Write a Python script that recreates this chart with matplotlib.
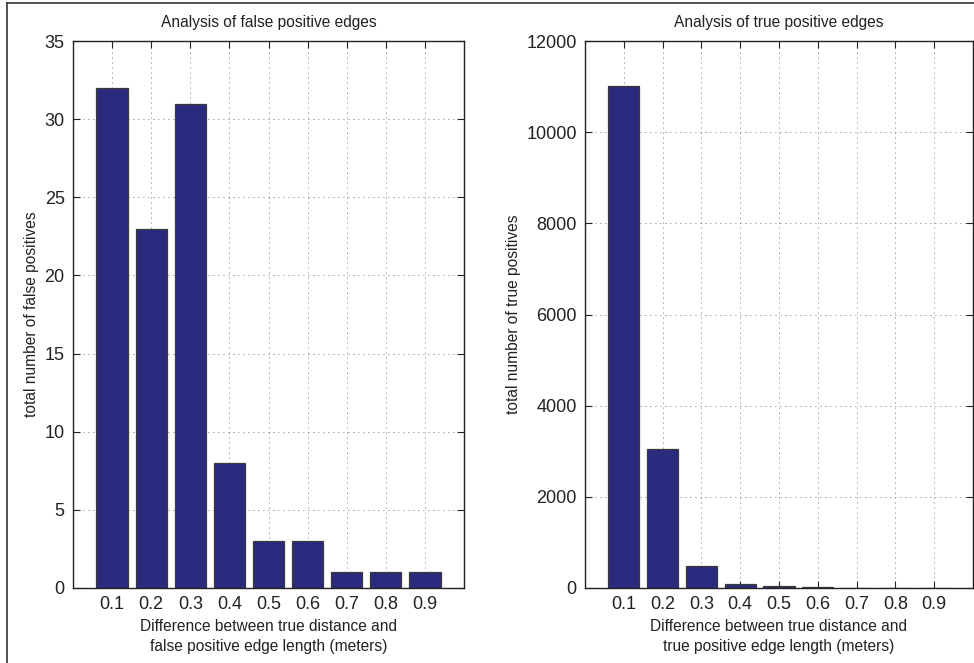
import numpy as np
import matplotlib
matplotlib.use("Agg")
import matplotlib.pyplot as plt
from matplotlib.lines import Line2D

plt.rcParams['font.family'] = ['Liberation Sans', 'DejaVu Sans']

# data
bins = [0.1, 0.2, 0.3, 0.4, 0.5, 0.6, 0.7, 0.8, 0.9]
tick_labels = ['0.1', '0.2', '0.3', '0.4', '0.5', '0.6', '0.7', '0.8', '0.9']
false_pos = [32, 23, 31, 8, 3, 3, 1, 1, 1]
true_pos = [11020, 3060, 490, 95, 40, 15, 6, 4, 4]

bar_color = '#2a2a7e'
edge_color = '#3a3a3a'

fig = plt.figure(figsize=(9.74, 6.63), dpi=100)

# frame around the figure (only left and top visible in the crop)
fig.add_artist(Line2D([7/974, 7/974], [0, 1 - 3/663], color='#333333', lw=1.2, transform=fig.transFigure))
fig.add_artist(Line2D([7/974, 1], [1 - 3/663, 1 - 3/663], color='#333333', lw=1.2, transform=fig.transFigure))

ax1 = fig.add_axes([73/974, 75/663, 391/974, 547/663])
ax2 = fig.add_axes([585/974, 75/663, 388/974, 547/663])


def style(ax, vals, ylim, yticks, title, ylabel, xlabel):
    ax.set_axisbelow(True)
    ax.bar(bins, vals, width=0.08, color=bar_color, edgecolor=edge_color, linewidth=0.9)
    ax.set_xlim(0, 1)
    ax.set_ylim(*ylim)
    ax.set_xticks(bins)
    ax.set_xticklabels(tick_labels)
    ax.set_yticks(yticks)
    ax.tick_params(direction='in', top=True, right=True, length=5, width=0.8,
                   labelsize=13, pad=6, colors='#222222')
    ax.grid(True, linestyle=(0, (1, 5)), color='#444444', linewidth=0.6)
    for s in ax.spines.values():
        s.set_linewidth(1.0)
        s.set_color('#222222')
    ax.set_title(title, fontsize=11.2, pad=10, color='#222222')
    ax.set_ylabel(ylabel, fontsize=11.2, color='#222222', labelpad=4)
    ax.set_xlabel(xlabel, fontsize=11.2, color='#222222', linespacing=1.45, labelpad=4)


style(ax1, false_pos, (0, 35), range(0, 36, 5),
      'Analysis of false positive edges',
      'total number of false positives',
      'Difference between true distance and\nfalse positive edge length (meters)')
style(ax2, true_pos, (0, 12000), range(0, 12001, 2000),
      'Analysis of true positive edges',
      'total number of true positives',
      'Difference between true distance and\ntrue positive edge length (meters)')

fig.savefig('out.png', dpi=100)
